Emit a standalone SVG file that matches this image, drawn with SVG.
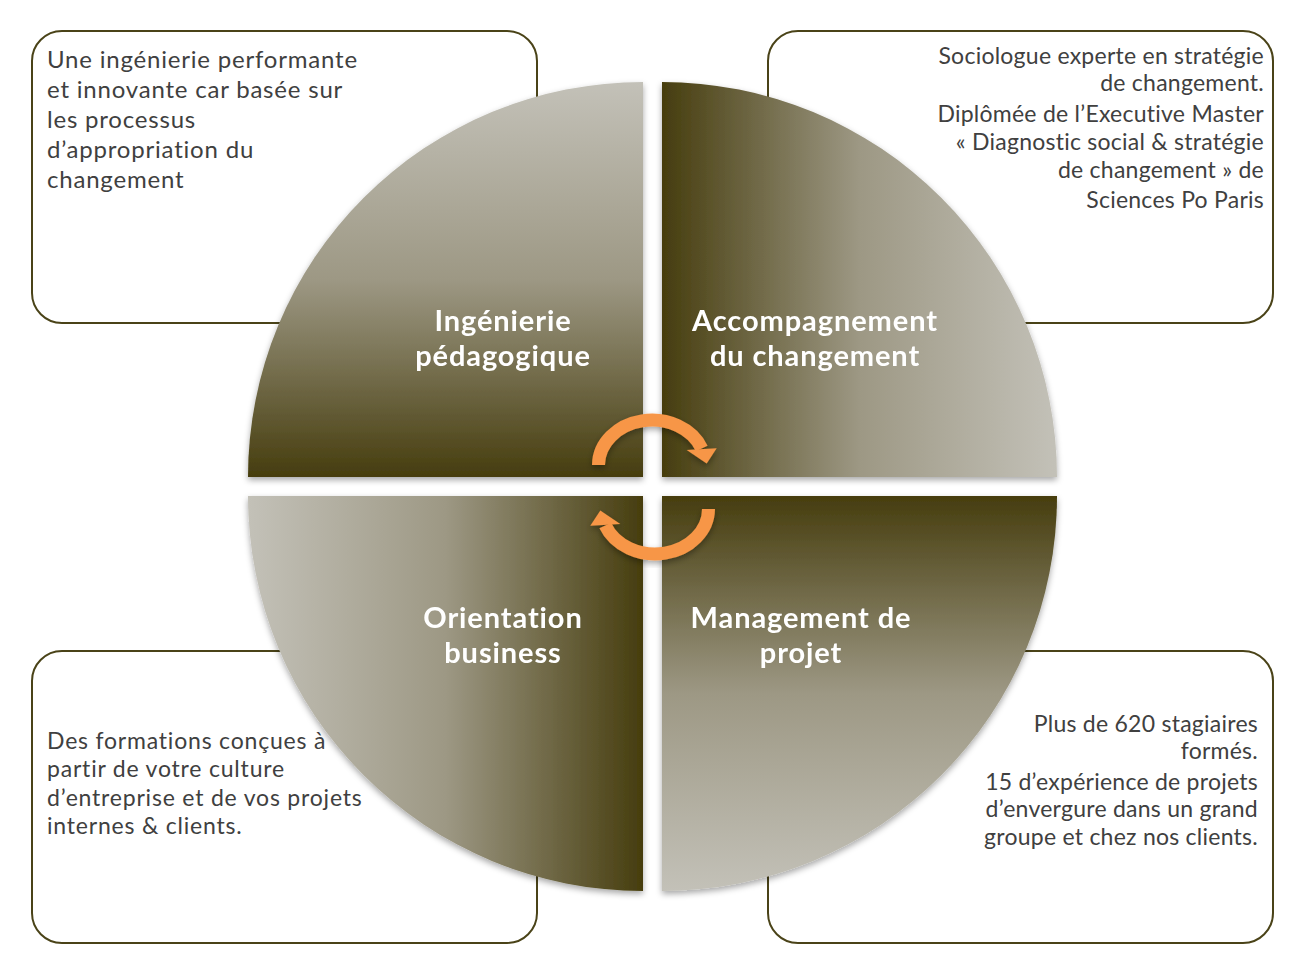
<svg xmlns="http://www.w3.org/2000/svg" width="1301" height="969" viewBox="0 0 1301 969">
<style>
.box{fill:#ffffff;stroke:#4a4318;stroke-width:2}
.body{font-family:Lato,"Open Sans",sans-serif;font-size:23px;fill:#404040}
.big{font-size:24px;letter-spacing:0.8px}
.mid{letter-spacing:0.8px}
.sm{letter-spacing:0.25px}
.r{text-anchor:end}
.lbl{font-family:Lato,"Open Sans",sans-serif;font-weight:bold;font-size:29px;letter-spacing:0.9px;fill:#ffffff;text-anchor:middle}
.arrow{fill:none;stroke:#f79646;stroke-width:13}
.head{fill:#f79646}
</style>
<defs>
<linearGradient id="gDown" x1="0" y1="0" x2="0" y2="1">
<stop offset="0" stop-color="#c3c1b8"/><stop offset="0.5" stop-color="#9d9884"/><stop offset="1" stop-color="#463d0e"/>
</linearGradient>
<linearGradient id="gUp" x1="0" y1="1" x2="0" y2="0">
<stop offset="0" stop-color="#c3c1b8"/><stop offset="0.5" stop-color="#9d9884"/><stop offset="1" stop-color="#463d0e"/>
</linearGradient>
<linearGradient id="gRight" x1="1" y1="0" x2="0" y2="0">
<stop offset="0" stop-color="#c3c1b8"/><stop offset="0.5" stop-color="#9d9884"/><stop offset="1" stop-color="#463d0e"/>
</linearGradient>
<linearGradient id="gLeft" x1="0" y1="0" x2="1" y2="0">
<stop offset="0" stop-color="#c3c1b8"/><stop offset="0.5" stop-color="#9d9884"/><stop offset="1" stop-color="#463d0e"/>
</linearGradient>
<filter id="sh" x="-10%" y="-10%" width="120%" height="120%">
<feDropShadow dx="0" dy="3" stdDeviation="3" flood-color="#000" flood-opacity="0.35"/>
</filter>
</defs>

<g id="box-tl"><rect class="box" x="32" y="31" width="505" height="292" rx="30"/>
<text class="body big" x="47" y="68">Une ingénierie performante</text>
<text class="body big" x="47" y="98">et innovante car basée sur</text>
<text class="body big" x="47" y="128">les processus</text>
<text class="body big" x="47" y="158">d’appropriation du</text>
<text class="body big" x="47" y="188">changement</text>
</g>
<g id="box-tr"><rect class="box" x="768" y="31" width="505" height="292" rx="30"/>
<text class="body sm r" x="1264" y="64">Sociologue experte en stratégie</text>
<text class="body sm r" x="1264" y="91">de changement.</text>
<text class="body sm r" x="1264" y="122">Diplômée de l’Executive Master</text>
<text class="body sm r" x="1264" y="150">« Diagnostic social &amp; stratégie</text>
<text class="body sm r" x="1264" y="178">de changement » de</text>
<text class="body sm r" x="1264" y="208">Sciences Po Paris</text>
</g>
<g id="box-bl"><rect class="box" x="32" y="651" width="505" height="292" rx="30"/>
<text class="body mid" x="47" y="749">Des formations conçues à</text>
<text class="body mid" x="47" y="777">partir de votre culture</text>
<text class="body mid" x="47" y="806">d’entreprise et de vos projets</text>
<text class="body mid" x="47" y="834">internes &amp; clients.</text>
</g>
<g id="box-br"><rect class="box" x="768" y="651" width="505" height="292" rx="30"/>
<text class="body sm r" x="1258" y="732">Plus de 620 stagiaires</text>
<text class="body sm r" x="1258" y="759">formés.</text>
<text class="body sm r" x="1258" y="790">15 d’expérience de projets</text>
<text class="body sm r" x="1258" y="817">d’envergure dans un grand</text>
<text class="body sm r" x="1258" y="845">groupe et chez nos clients.</text>
</g>

<g id="q-tl" filter="url(#sh)"><path d="M643,477 L248,477 A395,395 0 0 1 643,82 Z" fill="url(#gDown)"/>
<text class="lbl" x="503" y="331">Ingénierie</text>
<text class="lbl" x="503" y="366">pédagogique</text></g>
<g id="q-tr" filter="url(#sh)"><path d="M662,477 L662,82 A395,395 0 0 1 1057,477 Z" fill="url(#gRight)"/>
<text class="lbl" x="815" y="331">Accompagnement</text>
<text class="lbl" x="815" y="366">du changement</text></g>
<g id="q-bl" filter="url(#sh)"><path d="M643,496 L248,496 A395,395 0 0 0 643,891 Z" fill="url(#gLeft)"/>
<text class="lbl" x="503" y="628">Orientation</text>
<text class="lbl" x="503" y="663">business</text></g>
<g id="q-br" filter="url(#sh)"><path d="M662,496 L1057,496 A395,395 0 0 1 662,891 Z" fill="url(#gUp)"/>
<text class="lbl" x="801" y="628">Management de</text>
<text class="lbl" x="801" y="663">projet</text></g>

<g id="connectors" filter="url(#sh)">
<g id="arrow-top">
<path class="arrow" d="M598.5,465 A53.5,45 0 0 1 701.7,448.5"/>
<polygon class="head" points="686.7,450 716.7,448.3 706.7,463.5"/>
</g>
<g id="arrow-bottom" transform="rotate(180 653.5 487)">
<path class="arrow" d="M598.5,465 A53.5,45 0 0 1 701.7,448.5"/>
<polygon class="head" points="686.7,450 716.7,448.3 706.7,463.5"/>
</g>
</g>
</svg>
